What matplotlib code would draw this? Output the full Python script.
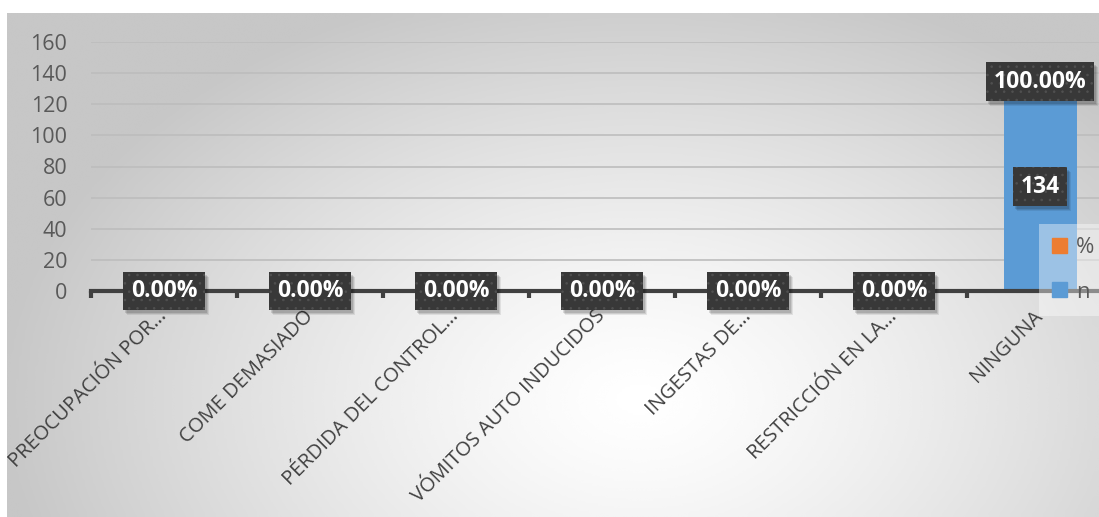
import numpy as np
import matplotlib.pyplot as plt
import matplotlib.transforms as mtrans
from matplotlib.patches import Patch

plt.rcParams['font.family'] = ['Open Sans', 'DejaVu Sans']
plt.rcParams['hatch.linewidth'] = 0.6

# categorias y series
categories = ["PREOCUPACIÓN POR…", "COME DEMASIADO", "PÉRDIDA DEL CONTROL…",
              "VÓMITOS AUTO INDUCIDOS", "INGESTAS DE…", "RESTRICCIÓN EN LA…", "NINGUNA"]
n_vals = [0, 0, 0, 0, 0, 0, 134]
pct_vals = [0.0, 0.0, 0.0, 0.0, 0.0, 0.0, 1.0]

blue = '#5B9BD5'
orange = '#ED7D31'

W, H = 1099, 517
fig = plt.figure(figsize=(W / 100, H / 100), dpi=100)
fig.patch.set_facecolor('white')

# fondo con degradado radial
bg = fig.add_axes([7 / W, 0, 1 - 7 / W, 1 - 13 / H])
bg.axis('off')
gx, gy = np.meshgrid(np.linspace(7, W, 400), np.linspace(13, H, 200))
d = np.sqrt(((gx - 640) / 640) ** 2 + ((gy - 400) / 430) ** 2)
shade = 1.0 - 0.22 * np.clip(d, 0, 1.0) ** 1.3
bg.imshow(shade, cmap='gray', vmin=0, vmax=1, aspect='auto',
          extent=[0, 1, 0, 1], interpolation='bicubic')
bg.set_xlim(0, 1)
bg.set_ylim(0, 1)

ax = fig.add_axes([91 / W, 226 / H, 1022 / W, 249 / H])
ax.set_facecolor('none')

x = np.arange(len(categories))
ax.bar(x, n_vals, 0.5, color=blue, zorder=2)
ax.bar(x, pct_vals, 0.5, bottom=n_vals, color=orange, zorder=2)

ax.set_xlim(-0.5, len(categories) - 0.5)
ax.set_ylim(0, 160)
ax.set_yticks(range(0, 161, 20))
ax.yaxis.grid(True, color='#bdbdbd', lw=1.2)
ax.set_axisbelow(True)
for s in ['top', 'right', 'left']:
    ax.spines[s].set_visible(False)
ax.spines['bottom'].set_color('#404040')
ax.spines['bottom'].set_linewidth(3)
ax.spines['bottom'].set_zorder(3)

ax.tick_params(axis='y', length=0, pad=17, labelsize=15.5, labelcolor='#595959')
ax.set_xticks(np.arange(-0.5, len(categories), 1.0))
ax.set_xticklabels([])
ax.tick_params(axis='x', which='major', length=5, width=3, color='#404040', direction='out')
ax.set_xticks(x, categories, minor=True)
ax.tick_params(axis='x', which='minor', length=0, pad=16, labelsize=14.5, labelcolor='#404040')
for lab in ax.get_xticklabels(minor=True):
    lab.set_rotation(45)
    lab.set_ha('right')
    lab.set_va('center')
    lab.set_rotation_mode('anchor')


def box_label(xv, yv, txt):
    # sombra difusa en capas, luego la caja oscura con el texto
    for k, a in [(5, 0.08), (4, 0.1), (3, 0.12)]:
        shadow = mtrans.offset_copy(ax.transData, fig=fig, x=k - 1, y=-k, units='dots')
        ax.text(xv, yv, txt, transform=shadow, ha='center', va='center', fontsize=16.5,
                fontweight='bold', color='none', zorder=4,
                bbox=dict(boxstyle='square,pad=0.32', fc='black', ec='none', alpha=a))
    ax.text(xv, yv, txt, ha='center', va='center', fontsize=16.5, fontweight='bold',
            color='white', zorder=5,
            bbox=dict(boxstyle='square,pad=0.32', fc='#383838', ec='#505050',
                      lw=0, hatch='..'))


for i in range(len(categories)):
    if n_vals[i] > 0:
        box_label(x[i], n_vals[i] / 2, str(n_vals[i]))
    box_label(x[i], n_vals[i] + pct_vals[i] / 2, f"{pct_vals[i] * 100:.2f}%")

handles = [Patch(color=orange, label='%'), Patch(color=blue, label='n')]
leg = fig.legend(handles=handles, loc='upper left', bbox_to_anchor=(1039 / W, 1 - 224 / H),
                 frameon=True, fancybox=False, framealpha=0.4, edgecolor='none',
                 facecolor='white', handlelength=0.65, handleheight=0.65, fontsize=16,
                 labelspacing=1.05, handletextpad=0.4, borderpad=0.6, borderaxespad=0)
for t in leg.get_texts():
    t.set_color('#595959')

fig.savefig('out.png', dpi=100)
